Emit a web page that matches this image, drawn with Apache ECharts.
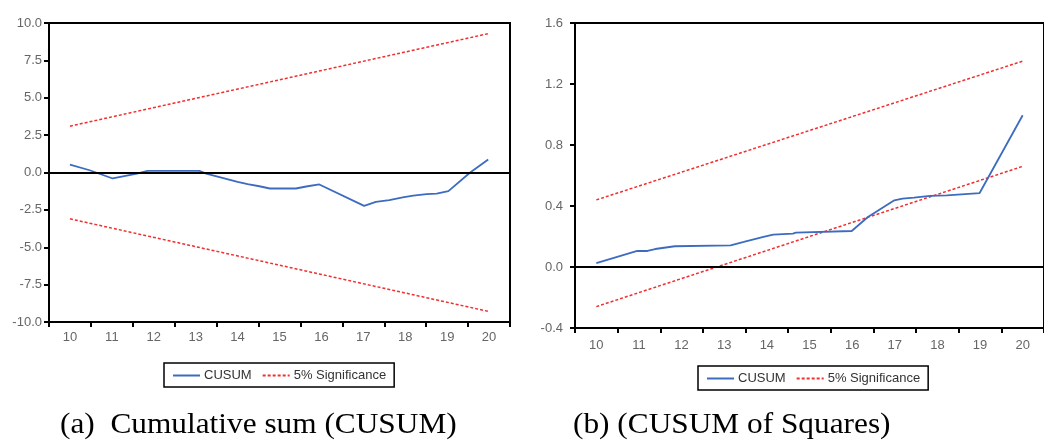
<!DOCTYPE html>
<html>
<head>
<meta charset="utf-8">
<script src="https://cdn.jsdelivr.net/npm/echarts@6/dist/echarts.min.js"></script>
<style>
html,body{margin:0;padding:0;background:#fff;}
#c{width:1044px;height:441px;}
</style>
</head>
<body>
<div id="c"></div>
<script>
// ---- data ----
const xLabels = ['10','11','12','13','14','15','16','17','18','19','20'];

const cusumX = [10.0,10.47,11.02,11.6,11.85,13.09,13.25,14.0,14.24,14.52,14.77,15.39,15.67,15.95,17.02,17.3,17.62,17.94,18.19,18.51,18.75,19.03,19.55,19.98];
const cusumY = [0.53,0.15,-0.40,-0.07,0.11,0.11,-0.07,-0.63,-0.78,-0.92,-1.07,-1.07,-0.92,-0.80,-2.23,-1.96,-1.85,-1.67,-1.54,-1.45,-1.41,-1.25,0.0,0.87];

const sqX = [10.0,10.96,11.2,11.38,11.84,13.15,13.46,13.92,14.15,14.61,14.68,15.99,16.37,16.99,17.18,17.45,17.83,18.22,18.99,20.0];
const sqY = [0.026,0.105,0.105,0.118,0.136,0.142,0.164,0.197,0.212,0.219,0.225,0.236,0.328,0.437,0.448,0.455,0.466,0.470,0.485,0.995];

const sigX = [10, 20];
const cusumUpper = [3.1, 9.3];
const cusumLower = [-3.1, -9.3];
const sqUpper = [0.44, 1.35];
const sqLower = [-0.26, 0.66];

const leftTicks = [-10, -7.5, -5, -2.5, 0, 2.5, 5, 7.5, 10];
const rightTicks = [-0.4, 0, 0.4, 0.8, 1.2, 1.6];

const captionA = '(a)  Cumulative sum (CUSUM)';
const captionB = '(b) (CUSUM of Squares)';

// ---- helpers ----
const zip = (xs, ys) => xs.map((x, i) => [x, ys[i]]);
const BLUE = '#3c6cc0';
const RED = '#f03030';

function catAxis(grid, margin) {
  return {
    type: 'category', gridIndex: grid, data: xLabels, boundaryGap: true,
    axisLine: {onZero: false, lineStyle: {color: '#000', width: 2}},
    axisTick: {show: true, length: 5, lineStyle: {color: '#000', width: 2}},
    axisLabel: {color: '#666', fontSize: 13, fontFamily: 'Liberation Sans', margin: margin},
    splitLine: {show: false}
  };
}
function valX(grid) {
  return {type: 'value', gridIndex: grid, min: 9.5, max: 20.5, show: false, splitLine: {show: false},
    axisLine: {onZero: false}};
}
function valY(grid, ticks, margin) {
  return {
    type: 'value', gridIndex: grid, min: ticks[0], max: ticks[ticks.length - 1],
    interval: ticks[1] - ticks[0],
    axisLine: {show: true, onZero: false, lineStyle: {color: '#000', width: 2}},
    axisTick: {show: true, length: 5, lineStyle: {color: '#000', width: 2}},
    axisLabel: {color: '#666', fontSize: 13, fontFamily: 'Liberation Sans', margin: margin,
      formatter: v => (Math.round(v * 100) / 100).toFixed(1)},
    splitLine: {show: false}
  };
}
function cusumSeries(name, xAxisIndex, yAxisIndex, xs, ys) {
  return {
    name: name, type: 'line', xAxisIndex: xAxisIndex, yAxisIndex: yAxisIndex,
    data: zip(xs, ys), showSymbol: false, symbol: 'none',
    lineStyle: {color: BLUE, width: 1.8}, itemStyle: {color: BLUE},
    animation: false, z: 3,
    markLine: {silent: true, symbol: 'none', label: {show: false},
      lineStyle: {color: '#000', width: 1.8, type: 'solid'}, data: [{yAxis: 0}], animation: false}
  };
}
function sigSeries(xAxisIndex, yAxisIndex, ys) {
  return {
    name: '5% Significance', type: 'line', xAxisIndex: xAxisIndex, yAxisIndex: yAxisIndex,
    data: zip(sigX, ys), showSymbol: false, symbol: 'none',
    lineStyle: {color: RED, width: 1.5, type: [3, 2]}, itemStyle: {color: RED},
    animation: false, z: 2
  };
}
function legend(left, top) {
  return {
    left: left, top: top, orient: 'horizontal',
    data: ['CUSUM', '5% Significance'],
    borderColor: '#000', borderWidth: 1.5, padding: [6, 8, 5, 8],
    itemGap: 10, itemWidth: 27, itemHeight: 10,
    itemStyle: {opacity: 0},
    lineStyle: {width: 2},
    textStyle: {fontSize: 13, color: '#333', fontFamily: 'Liberation Sans', padding: [0, 0, 0, -1]},
    selectedMode: false
  };
}
const captionFont = '29px "Liberation Serif"';

const chart = echarts.init(document.getElementById('c'), null, {renderer: 'canvas'});
chart.setOption({
  backgroundColor: '#fff',
  animation: false,
  graphic: [
    {type: 'text', x: 60, y: 425, scaleX: 1.08, style: {text: captionA, font: captionFont, fill: '#000', verticalAlign: 'middle'}},
    {type: 'text', x: 573, y: 425, scaleX: 1.08, style: {text: captionB, font: captionFont, fill: '#000', verticalAlign: 'middle'}}
  ],
  legend: [legend(164, 363), legend(698, 366)],
  grid: [
    {left: 49, top: 23, width: 461, height: 299, show: true, borderColor: '#000', borderWidth: 2, backgroundColor: 'transparent'},
    {left: 575, top: 23, width: 477, height: 305, show: true, borderColor: '#000', borderWidth: 2, backgroundColor: 'transparent'}
  ],
  xAxis: [catAxis(0, 9), valX(0), catAxis(1, 11), valX(1)],
  yAxis: [valY(0, leftTicks, 7), valY(1, rightTicks, 12)],
  series: [
    cusumSeries('CUSUM', 1, 0, cusumX, cusumY),
    sigSeries(1, 0, cusumUpper),
    sigSeries(1, 0, cusumLower),
    cusumSeries('CUSUM', 3, 1, sqX, sqY),
    sigSeries(3, 1, sqUpper),
    sigSeries(3, 1, sqLower)
  ]
});
</script>
</body>
</html>
